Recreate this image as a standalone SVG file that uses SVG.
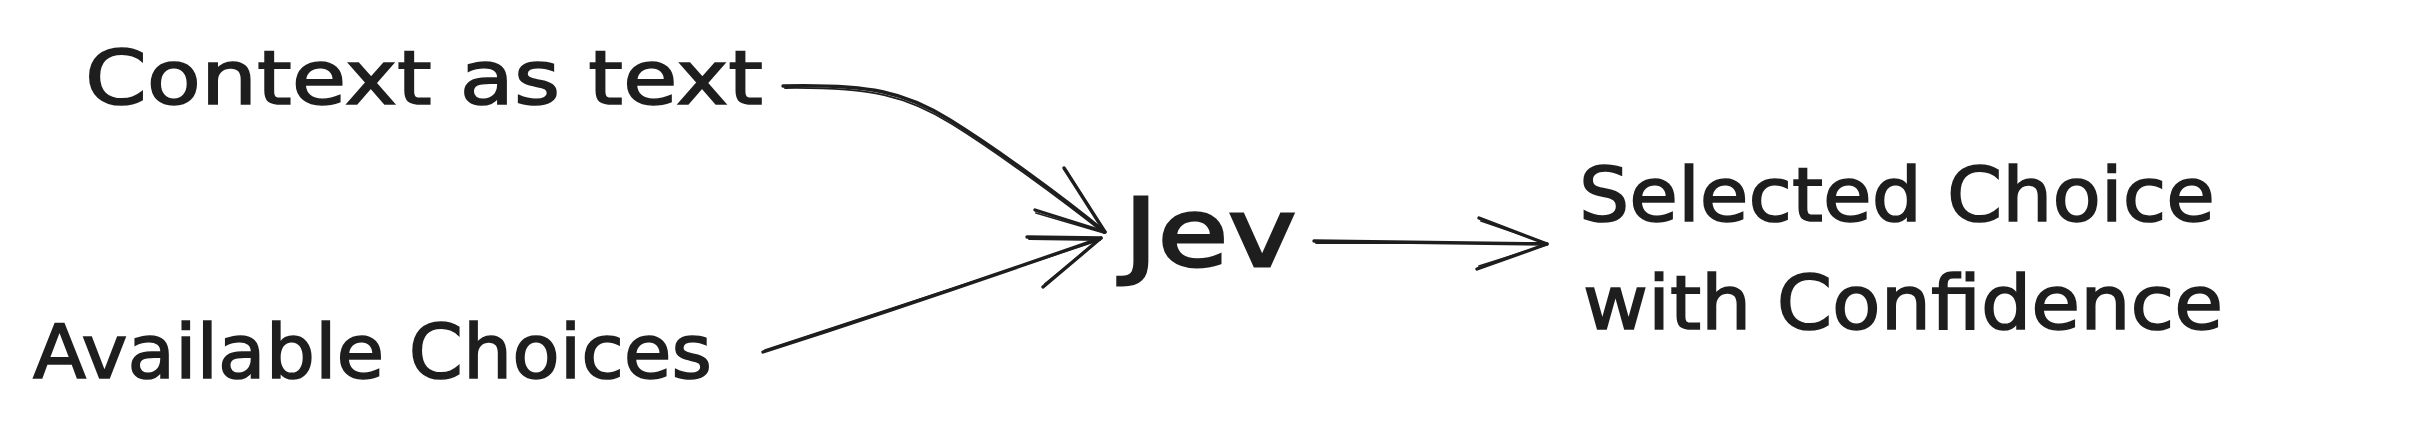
<svg xmlns="http://www.w3.org/2000/svg" width="2431" height="436" viewBox="0 0 2431 436">
<style>
.t{font-family:"DejaVu Sans","Liberation Sans",sans-serif;fill:#1e1e1e;stroke:#1e1e1e;stroke-width:1.6px;font-size:74px}
.j{font-size:94px;stroke-width:3px}
.c{fill:none;stroke:#1e1e1e;stroke-linecap:round;stroke-linejoin:round}
.a{stroke-width:3.4}
.b{stroke-width:1.8}
</style>
<rect width="2431" height="436" fill="#ffffff"/>
<g id="node-context"><text class="t" x="85" y="104" textLength="678" lengthAdjust="spacingAndGlyphs">Context as text</text></g>
<g id="node-choices"><text class="t" x="33" y="378" textLength="679" lengthAdjust="spacingAndGlyphs">Available Choices</text></g>
<g id="node-jev"><text class="t j" x="1124" y="266" textLength="172" lengthAdjust="spacingAndGlyphs">Jev</text></g>
<g id="node-selected">
<text class="t" x="1579" y="221" textLength="636" lengthAdjust="spacingAndGlyphs">Selected Choice</text>
<text class="t" x="1583" y="329" textLength="640" lengthAdjust="spacingAndGlyphs">with Confidence</text>
</g>
<g id="connectors">
<path class="c a" d="M783 86 C870 84 905 92 950 120 S1060 195 1105 232"/>
<path class="c b" d="M785 88 C872 87 907 96 952 124 S1061 199 1104 233"/>
<path class="c a" d="M1064 168 L1105 232 M1035 210 L1105 232"/>
<path class="c b" d="M1066 170 L1104 231 M1036 213 L1104 233"/>
<path class="c a" d="M763 352 Q930 298 1101 238"/>
<path class="c b" d="M765 350 Q932 295 1100 240"/>
<path class="c a" d="M1027 237 L1101 238 M1043 287 L1101 238"/>
<path class="c b" d="M1029 239 L1100 240 M1045 284 L1100 239"/>
<path class="c a" d="M1314 241 L1547 244"/>
<path class="c b" d="M1316 243 L1546 243"/>
<path class="c a" d="M1479 218 L1547 244 M1477 269 L1547 244"/>
<path class="c b" d="M1481 221 L1546 243 M1479 266 L1546 245"/>
</g>
</svg>
